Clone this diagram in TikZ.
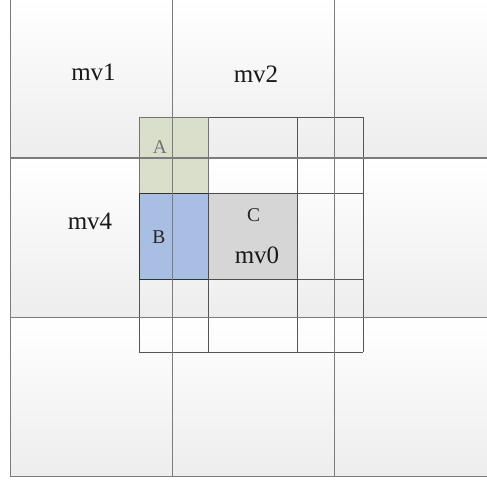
\documentclass[tikz,border=0pt]{standalone}
\usepackage{fontspec}
\setmainfont{Liberation Serif}
\usetikzlibrary{positioning}
\definecolor{gridgray}{HTML}{7C7C7C}
\definecolor{cellgray}{HTML}{555555}
\definecolor{agreen}{HTML}{D9DFCB}
\definecolor{bblue}{HTML}{A8BEE2}
\definecolor{cgray}{HTML}{D6D6D6}
\tikzset{
  blk/.style={top color=white,bottom color=black!7,minimum width=162pt,minimum height=159pt,inner sep=0pt,outer sep=0pt},
  border/.style={draw=gridgray,line width=0.9pt},
  cellline/.style={draw=cellgray,line width=0.7pt},
  part/.style={draw=black!70,line width=0.9pt,inner sep=0pt,outer sep=0pt},
  mvtxt/.style={font=\fontsize{25}{25}\selectfont,text=black!90,inner sep=0pt},
  parttxt/.style={font=\fontsize{19.5}{19.5}\selectfont,text=black!85,inner sep=0pt},
}

\begin{document}
\begin{tikzpicture}[x=1pt,y=-1pt]
  \useasboundingbox (0,0) rectangle (487,479);
  \fill[white] (0,0) rectangle (487,479);
  \clip (0,0) rectangle (487,479);
  % neighbouring blocks
  \foreach \r/\y in {1/77.5,2/237.5,3/396.5}{
    \foreach \c/\x in {1/91,2/253,3/415}{
      \node[blk] (m\r\c) at (\x,\y) {};}}
  % small grid around the current block
  \foreach \x in {139,208,297,363}
    \draw[cellline] (\x,117) -- (\x,352);
  \foreach \y in {117,193,279,352}
    \draw[cellline] (139,\y) -- (363,\y);
  % partitions A, B, C
  \node[part,fill=agreen,draw=black!55,minimum width=69pt,minimum height=76pt] (pa) at (173.5,155) {};
  \node[part,fill=bblue,draw=black!80,minimum width=69pt,minimum height=86pt] (pb) at (173.5,236) {};
  \node[part,fill=cgray,minimum width=89pt,minimum height=86pt] (pc) at (252.5,236) {};
  % block borders
  \foreach \n in {m11,m12,m13,m21,m22,m23,m31,m32,m33}
    \draw[border] (\n.north west) rectangle (\n.south east);
  % labels
  \node[mvtxt] (t1) at (93.5,72) {mv1};
  \node[mvtxt] (t2) at (256,74) {mv2};
  \node[mvtxt] (t4) at (90,221) {mv4};
  \node[mvtxt] (t0) at (257,255) {mv0};
  \node[parttxt,text=black!55] (ta) at (160,147) {A};
  \node[parttxt] (tb) at (159,237) {B};
  \node[parttxt] (tc) at (253.5,215) {C};
\end{tikzpicture}
\end{document}
